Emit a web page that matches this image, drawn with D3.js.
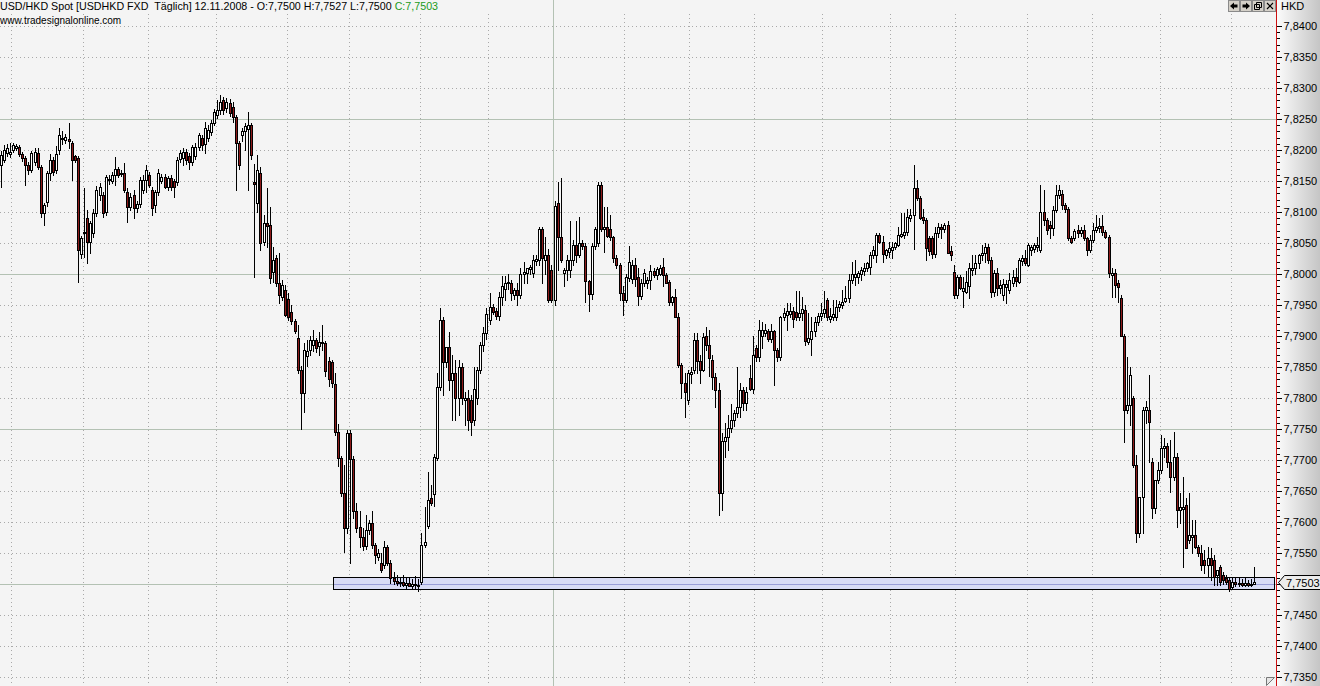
<!DOCTYPE html>
<html>
<head>
<meta charset="utf-8">
<script src="https://cdn.jsdelivr.net/npm/d3@7"></script>
<style>
  body { margin: 0; background: #f4f4f4; overflow: hidden; }
  svg { display: block; font-family: "Liberation Sans", Arial, sans-serif; }
</style>
</head>
<body>
<svg width="1320" height="686"></svg>
<script>
// daily USD/HKD candles, values in pips above 7.7000 (Apr 2007 .. 12 Nov 2008)
const opens = [
  1176,1184,1195,1193,
  1200,1204,1205,1193,1187,1176,1168,1180,1195,1173,1098,1116,1163,1184,1168,1200,1220,1216,1218,1212,1190,1187,1033,
  1066,1090,1051,1066,1098,1127,1127,1100,1154,1150,1160,1170,1163,1163,1132,1108,1127,1106,1113,1136,1152,
  1160,1136,1111,1132,1150,1157,1141,1155,1150,1148,1186,1187,1197,1190,1181,1190,1205,1220,1210,1220,1229,1244,
  1257,1265,1280,1268,1276,1270,1253,1212,1224,1230,1234,1240,1148,1115,1163,1052,1082,1079,1004,1026,986,963,974,
  960,938,924,897,845,808,868,877,886,894,884,890,888,860,858,823,745,703,647,590,
  743,702,617,592,576,561,587,598,563,544,534,530,560,534,510,505,501,504,499,502,497,500,498,
  503,563,593,639,645,703,818,926,858,882,829,840,800,850,797,800,797,765,800,845,885,905,
  926,947,940,933,963,975,985,985,966,974,966,1000,1002,1008,1002,1021,1023,1072,1023,1031,1007,
  958,1114,1060,1002,1007,1007,1023,1047,1031,1050,1045,988,968,1045,1050,1144,1072,1075,1072,1060,1026,1015,970,
  958,994,992,1015,995,965,985,985,990,1005,998,1000,1012,998,987,955,963,930,853,824,797,
  838,845,894,860,845,900,885,861,834,813,646,730,737,752,765,776,785,813,792,832,815,
  880,866,900,905,908,895,908,877,866,930,934,935,940,938,930,937,942,890,895,908,922,932,
  937,958,928,930,930,946,950,957,961,990,995,995,1000,1005,1010,1012,1030,1031,1063,1052,1031,1035,
  1039,1044,1047,1061,1063,1067,1090,1095,1139,1123,1092,1087,1058,1058,1033,1066,1075,1073,1079,1037,1003,
  966,995,972,971,980,1007,1010,1018,1030,1034,1044,1023,971,1002,977,966,979,974,985,995,987,1021,1026,
  1015,1039,1040,1044,1039,1100,1087,1079,1074,1103,1127,1129,1111,1105,1058,1058,1071,1066,1071,1058,1039,
  1055,1071,1074,1078,1068,1060,998,1002,985,961,900,780,789,800,692,582,640,781,781,697,623,668,
  684,719,722,697,673,705,619,621,627,571,576,579,560,550,539,531,542,539,515,527,515,510,506,
  495,503,500,502,499,501,499,500
];
const highs = [
  1198,1208,1210,1211,
  1212,1210,1208,1196,1190,1180,1198,1203,1203,1176,1115,1166,1194,1188,1206,1236,1230,1226,1244,1215,1192,1190,1062,
  1139,1103,1085,1105,1142,1146,1132,1160,1160,1164,1188,1173,1168,1179,1139,1130,1136,1118,1156,1160,1176,
  1165,1140,1136,1170,1162,1162,1158,1160,1154,1188,1200,1203,1202,1195,1208,1212,1228,1224,1245,1240,1248,1266,
  1280,1289,1286,1284,1282,1278,1257,1215,1236,1244,1262,1244,1178,1192,1173,1095,1139,1108,1044,1030,1034,990,982,
  970,950,928,918,851,888,893,900,910,896,906,918,892,866,862,840,758,706,692,748,
  748,706,630,617,590,611,604,617,566,556,550,570,563,538,520,514,512,515,510,512,508,513,508,
  582,624,680,660,710,840,945,930,870,906,869,862,861,856,810,813,805,850,850,890,915,945,
  970,952,945,971,997,997,1000,990,978,985,1010,1020,1010,1015,1030,1030,1075,1075,1060,1040,1015,
  1118,1148,1155,1010,1030,1085,1055,1085,1092,1055,1050,990,1050,1075,1148,1148,1108,1108,1095,1062,1030,1018,980,
  1000,1045,1022,1025,1010,992,1008,995,1015,1010,1012,1015,1025,1002,990,965,975,937,856,840,845,
  850,905,905,870,905,915,910,870,840,824,743,760,773,790,780,850,824,818,818,853,900,
  885,926,922,920,912,920,910,880,932,945,953,953,947,972,972,963,950,937,930,930,937,953,
  973,962,945,958,958,957,974,980,1000,1020,1023,1005,1012,1018,1020,1035,1045,1066,1066,1061,1040,1052,
  1052,1052,1075,1098,1098,1105,1105,1176,1152,1126,1105,1090,1062,1062,1075,1082,1080,1082,1085,1045,1015,
  998,998,995,1005,1018,1031,1031,1033,1047,1050,1048,1028,1007,1010,990,992,990,1002,1007,1010,1026,1031,1039,
  1050,1047,1050,1060,1144,1136,1090,1085,1110,1144,1144,1135,1115,1108,1061,1073,1079,1075,1079,1060,1063,
  1082,1095,1090,1095,1071,1063,1010,1008,990,966,904,866,850,803,708,640,785,795,837,703,665,697,
  740,735,727,732,745,711,647,672,639,647,603,603,563,563,555,560,558,547,523,531,520,514,510,
  510,512,510,508,510,506,508,527
];
const lows = [
  1140,1180,1190,1188,
  1196,1200,1190,1183,1144,1162,1165,1176,1170,1092,1079,1110,1152,1160,1163,1194,1210,1212,1204,1152,1180,987,1025,
  1028,1018,1034,1060,1094,1120,1092,1095,1145,1146,1144,1156,1158,1132,1084,1104,1090,1100,1108,1130,1132,
  1140,1095,1100,1127,1146,1138,1136,1136,1124,1144,1180,1176,1178,1170,1176,1186,1200,1200,1195,1215,1225,1240,
  1252,1258,1258,1262,1255,1245,1136,1170,1215,1200,1136,1185,995,1100,1039,1047,1044,986,987,980,953,958,932,
  925,920,905,840,750,777,852,870,876,874,870,877,835,820,818,740,690,642,552,582,
  534,606,584,560,555,556,580,558,534,538,519,526,530,502,500,498,497,496,494,496,492,494,488,
  500,560,590,628,626,700,813,805,850,813,765,764,773,790,757,748,740,757,790,840,875,895,
  920,935,928,925,950,958,975,958,960,950,962,985,985,1000,995,1015,1015,985,1000,955,955,
  950,1007,1020,980,990,995,1015,1020,1028,1040,955,940,960,1040,1045,1070,1035,1060,1055,1020,1010,958,934,
  955,988,985,980,950,960,980,978,975,995,992,998,980,985,950,950,930,850,800,770,790,
  825,840,840,825,843,877,835,815,785,611,619,705,716,745,755,770,770,780,780,813,808,
  860,860,880,900,892,890,821,860,862,925,910,930,915,925,925,925,885,887,870,900,918,925,
  930,925,922,925,925,940,945,955,955,985,982,985,990,998,1005,1000,1025,1020,1050,1020,1025,1028,
  1025,1040,1045,1060,1058,1063,1085,1040,1119,1088,1083,1023,1030,1025,1028,1060,1058,1068,1034,1022,961,
  961,975,947,969,961,998,1000,1010,1023,1020,1018,963,965,966,970,958,953,970,980,980,985,1015,1015,
  1013,1030,1035,1037,1036,1079,1065,1058,1063,1100,1123,1105,1100,1055,1050,1055,1060,1062,1055,1031,1035,
  1052,1068,1068,1063,1058,995,963,963,955,900,729,776,757,689,568,575,582,760,697,607,615,663,
  679,705,689,649,668,592,598,527,558,566,550,558,545,523,518,511,506,498,498,498,500,500,488,
  492,497,496,497,496,497,497,500
];
const closes = [
  1192,1200,1203,1197,
  1208,1206,1193,1187,1176,1168,1195,1197,1173,1098,1111,1163,1184,1165,1194,1224,1218,1221,1215,1184,1184,1039,1058,
  1068,1051,1082,1098,1136,1140,1098,1157,1152,1160,1170,1160,1162,1136,1108,1124,1106,1113,1152,1152,1168,
  1144,1106,1132,1163,1157,1141,1155,1141,1141,1184,1195,1197,1184,1181,1205,1205,1224,1208,1235,1232,1244,1262,
  1265,1278,1265,1278,1260,1253,1212,1176,1230,1238,1240,1192,1145,1168,1050,1082,1078,994,1023,986,966,982,934,
  930,924,908,845,808,877,876,894,894,880,890,888,843,830,825,745,703,647,590,743,
  702,617,590,576,561,587,598,563,547,550,523,560,534,510,505,501,504,499,502,497,500,498,497,
  563,568,635,631,705,818,926,858,882,829,840,800,850,800,800,765,762,815,845,885,905,935,
  947,939,933,963,980,985,987,970,974,966,1000,1004,1010,1012,1023,1024,1072,1026,1031,958,958,
  1110,1060,1023,1007,1023,1023,1047,1031,1050,1045,988,968,1045,1072,1144,1072,1075,1062,1060,1026,1015,970,958,
  995,1020,1015,992,965,985,1002,990,1005,998,1008,1010,998,985,955,963,930,853,824,810,840,
  842,894,860,845,898,885,864,834,813,646,730,737,752,765,776,785,813,792,810,815,870,
  866,910,910,910,895,908,877,866,930,937,940,940,928,930,937,943,892,897,908,922,932,937,
  943,930,932,935,946,952,955,962,990,1000,1000,1002,1007,1010,1018,1031,1039,1063,1052,1033,1039,1042,
  1044,1050,1063,1065,1067,1092,1095,1139,1123,1090,1087,1042,1037,1033,1066,1076,1073,1079,1034,1030,966,
  995,978,978,987,1010,1010,1018,1031,1034,1044,1023,971,1002,977,982,984,984,990,995,988,1023,1026,1018,
  1047,1044,1047,1047,1100,1087,1071,1074,1103,1127,1135,1111,1105,1058,1052,1070,1066,1071,1058,1039,1055,
  1071,1076,1078,1068,1060,1002,1002,982,979,900,780,789,837,692,582,640,781,786,761,623,668,684,
  719,722,697,673,705,619,625,625,558,579,579,560,550,531,531,542,531,511,523,503,506,503,492,
  503,500,502,499,501,499,500,503
];

// index of the first bar of each month (May 2007 .. Nov 2008); 179 = first bar of 2008
const monthStarts = [4, 27, 48, 70, 93, 113, 136, 158, 179, 202, 223, 244, 266, 288, 309, 332, 353, 375, 398];
const yearStart = 179;

// price axis
const labelTicks = [7.735, 7.740, 7.745, 7.750, 7.755, 7.760, 7.765, 7.770, 7.775, 7.780, 7.785,
                    7.790, 7.795, 7.800, 7.805, 7.810, 7.815, 7.820, 7.825, 7.830, 7.835, 7.840];
const majorLines = [7.750, 7.775, 7.800, 7.825];

// support zone drawn from late Sept 2007 to the right edge
const zone = { fromBar: 107.5, low: 7.7492, high: 7.7511, mid: 7.7500 };
const lastPrice = 7.7503;

const headerMain = "USD/HKD Spot [USDHKD FXD  Täglich] 12.11.2008 - O:7,7500 H:7,7527 L:7,7500 ";
const headerClose = "C:7,7503";
const headerSite = "www.tradesignalonline.com";
const currency = "HKD";

const svg = d3.select("svg");
const width = +svg.attr("width");
const height = +svg.attr("height");
const axisX = 1276;

const pip = v => 7.7 + v / 10000;
const fmt = v => d3.format(".4f")(v).replace(".", ",");

const bars = opens.map((o, i) => ({
  i, o: pip(o), h: pip(highs[i]), l: pip(lows[i]), c: pip(closes[i])
}));

const x = d3.scaleLinear().domain([0, bars.length - 1]).range([0.5, 1254]);
const y = d3.scaleLinear().domain([7.735, 7.84]).range([677, 26]);
const crisp = v => Math.round(v) + 0.5;

// backgrounds
const defs = svg.append("defs");
const grad = defs.append("linearGradient").attr("id", "axisGrad");
grad.append("stop").attr("offset", "0%").attr("stop-color", "#fbfbfb");
grad.append("stop").attr("offset", "100%").attr("stop-color", "#c4c4c4");

svg.append("rect").attr("width", width).attr("height", height).attr("fill", "#f4f4f4");
svg.append("rect").attr("x", axisX + 1).attr("y", 0).attr("width", width - axisX).attr("height", height)
  .attr("fill", "url(#axisGrad)");

// grid
const grid = svg.append("g").attr("class", "grid");
const minorLevels = labelTicks.filter(t => !majorLines.some(m => Math.abs(m - t) < 1e-9));

grid.selectAll("line.hdot").data(minorLevels).join("line")
  .attr("class", "hdot")
  .attr("x1", 0).attr("x2", axisX)
  .attr("y1", d => crisp(y(d))).attr("y2", d => crisp(y(d)))
  .attr("stroke", "#a9a9a9").attr("stroke-dasharray", "1,3");

grid.selectAll("line.vdot").data(monthStarts.filter(m => m !== yearStart)).join("line")
  .attr("class", "vdot")
  .attr("x1", d => crisp(x(d) - 1.5)).attr("x2", d => crisp(x(d) - 1.5))
  .attr("y1", 14).attr("y2", height)
  .attr("stroke", "#a9a9a9").attr("stroke-dasharray", "1,3");

grid.selectAll("line.hsolid").data(majorLines).join("line")
  .attr("class", "hsolid")
  .attr("x1", 0).attr("x2", axisX)
  .attr("y1", d => crisp(y(d))).attr("y2", d => crisp(y(d)))
  .attr("stroke", "#b3c1b3");

grid.append("line")
  .attr("x1", crisp(x(yearStart) - 1.5)).attr("x2", crisp(x(yearStart) - 1.5))
  .attr("y1", 0).attr("y2", height)
  .attr("stroke", "#b3c1b3");

// support zone
const zoneG = svg.append("g").attr("class", "zone");
zoneG.append("rect")
  .attr("x", crisp(x(zone.fromBar)))
  .attr("y", crisp(y(zone.high)))
  .attr("width", axisX - 2 - Math.round(x(zone.fromBar)))
  .attr("height", Math.round(y(zone.low)) - Math.round(y(zone.high)))
  .attr("fill", "#d8dbf4").attr("stroke", "#000");
zoneG.append("line")
  .attr("x1", Math.round(x(zone.fromBar)) + 1).attr("x2", axisX - 2)
  .attr("y1", crisp(y(zone.mid))).attr("y2", crisp(y(zone.mid)))
  .attr("stroke", "#9a9ed6");

// candles
const candles = svg.append("g").attr("class", "candles")
  .selectAll("g").data(bars).join("g");

candles.append("line")
  .attr("x1", d => Math.round(x(d.i)) + 0.5).attr("x2", d => Math.round(x(d.i)) + 0.5)
  .attr("y1", d => Math.round(y(d.h))).attr("y2", d => Math.round(y(d.l)) + 1)
  .attr("stroke", "#000");

candles.each(function(d) {
  const g = d3.select(this);
  const cx = Math.round(x(d.i));
  const top = Math.round(y(Math.max(d.o, d.c)));
  const bot = Math.round(y(Math.min(d.o, d.c)));
  if (bot - top < 1) {
    g.append("line")
      .attr("x1", cx - 1).attr("x2", cx + 2)
      .attr("y1", top + 0.5).attr("y2", top + 0.5)
      .attr("stroke", "#000");
  } else {
    g.append("rect")
      .attr("x", cx - 0.5).attr("y", top + 0.5)
      .attr("width", 2).attr("height", bot - top)
      .attr("fill", d.c >= d.o ? "#ffffff" : "#8e1a1a")
      .attr("stroke", "#000");
  }
});

// price axis (the 7,7500 label sits under the last-price marker, so it is left blank)
const axisG = svg.append("g").attr("transform", `translate(${axisX + 0.5},0)`);
const minorTicks = d3.range(7735, 7841).map(v => v / 1000);
axisG.call(d3.axisRight(y).tickValues(minorTicks).tickSize(3).tickFormat(""))
  .call(g => g.select(".domain").remove());
const labelAxis = svg.append("g").attr("transform", `translate(${axisX + 0.5},0)`)
  .call(d3.axisRight(y).tickValues(labelTicks).tickSize(5).tickPadding(2)
    .tickFormat(v => Math.abs(v - lastPrice) < 0.001 ? "" : fmt(v)))
  .call(g => g.select(".domain").remove());
labelAxis.selectAll("text")
  .attr("font-family", "Liberation Sans, Arial, sans-serif")
  .attr("font-size", 11).attr("fill", "#000");
svg.selectAll(".tick line").attr("stroke", "#000").attr("shape-rendering", "crispEdges");

svg.append("line")
  .attr("x1", axisX + 0.5).attr("x2", axisX + 0.5)
  .attr("y1", 0).attr("y2", height)
  .attr("stroke", "#cc1111");

// last price marker
const ly = Math.round(y(lastPrice));
svg.append("path")
  .attr("d", `M${axisX + 2.5},${ly + 0.5} L${axisX + 8.5},${ly - 6.5} L${width + 1},${ly - 6.5} L${width + 1},${ly + 7.5} L${axisX + 8.5},${ly + 7.5} Z`)
  .attr("fill", "#ececec").attr("stroke", "#000");
svg.append("text")
  .attr("x", axisX + 10).attr("y", ly + 4.5)
  .attr("font-size", 11).attr("fill", "#000")
  .text(fmt(lastPrice));

// header
const head = svg.append("text").attr("x", 0).attr("y", 10).attr("font-size", 10.7).attr("fill", "#000")
  .style("white-space", "pre");
head.append("tspan").text(headerMain);
head.append("tspan").attr("fill", "#1a9a1a").text(headerClose);
svg.append("text").attr("x", 0).attr("y", 24).attr("font-size", 10).attr("fill", "#000").text(headerSite);

svg.append("text").attr("x", axisX + 5).attr("y", 10).attr("font-size", 11).attr("fill", "#000").text(currency);

// window buttons
const buttons = ["left", "right", "restore", "close"];
const btn = svg.append("g").selectAll("g").data(buttons).join("g")
  .attr("transform", (d, i) => `translate(${1228 + i * 12},0)`);
btn.append("rect").attr("x", 0.5).attr("y", 0.5).attr("width", 11).attr("height", 11)
  .attr("fill", "#d4d0c8").attr("stroke", "#8a8a8a");
btn.append("path")
  .attr("d", d => ({
    left: "M2,6 L6,2.5 L6,4.5 L9.5,4.5 L9.5,7.5 L6,7.5 L6,9.5 Z",
    right: "M10,6 L6,2.5 L6,4.5 L2.5,4.5 L2.5,7.5 L6,7.5 L6,9.5 Z",
    restore: "M4.5,2.5 H9.5 V7.5 H4.5 Z M2.5,4.5 H7.5 V9.5 H2.5 Z",
    close: "M3,3 L9,9 M9,3 L3,9"
  })[d])
  .attr("fill", d => d === "left" || d === "right" ? "#000" : "none")
  .attr("stroke", d => d === "left" || d === "right" ? "none" : "#000")
  .attr("stroke-width", d => d === "close" ? 1.2 : 1);

// resize grip bottom right of plot
svg.append("path")
  .attr("d", `M${axisX - 9.5},${height - 0.5} L${axisX - 9.5},${height - 8.5} L${axisX - 1.5},${height - 8.5} Z`)
  .attr("fill", "#e6e6e6").attr("stroke", "#777");
</script>
</body>
</html>
